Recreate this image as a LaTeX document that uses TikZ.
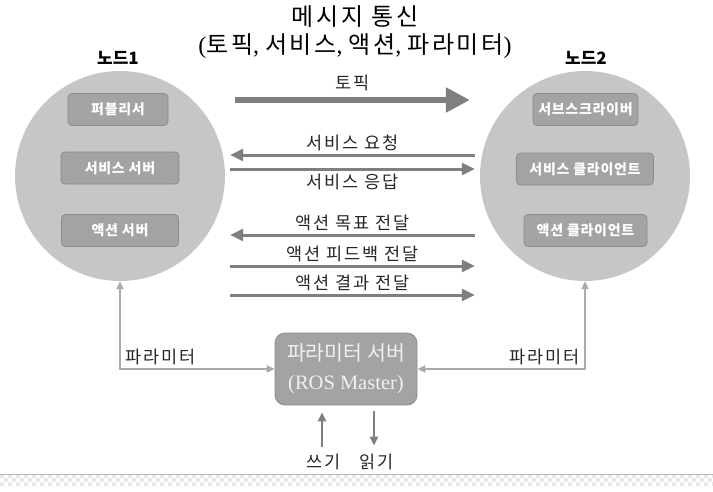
\documentclass[tikz,border=0pt]{standalone}
\usepackage{fontspec}
\setmainfont{Liberation Serif}
\newfontfamily\kr{Noto Sans CJK KR}
\newfontfamily\krw{Noto Sans CJK KR}[LetterSpace=11]
\newfontfamily\krb{Noto Sans CJK KR}[LetterSpace=5]
\usetikzlibrary{arrows.meta,positioning}
\definecolor{circgray}{HTML}{C6C6C6}
\definecolor{boxgray}{HTML}{A3A3A3}
\definecolor{boxline}{HTML}{8C8C8C}
\definecolor{arrgray}{HTML}{7F7F7F}
\definecolor{pargray}{HTML}{ABABAB}
\definecolor{chkgray}{HTML}{E8E8E8}
\begin{document}
\begin{tikzpicture}[x=1pt,y=-1pt,
    nodecirc/.style={circle,fill=circgray,minimum size=210pt,inner sep=0pt},
    inbox/.style={draw=boxline,fill=boxgray,line width=0.8pt,rounded corners=4pt,inner sep=0pt,minimum height=32pt,text=white,font=\krb\bfseries\fontsize{14}{16}\selectfont},
    lbl/.style={text=black!85,font=\krw\fontsize{17.5}{20}\selectfont},
    msg/.style={draw=arrgray,line width=3pt,shorten <=5pt,shorten >=5pt,-{Triangle[length=13pt,width=12pt]}},
    topic/.style={draw=arrgray,line width=5.5pt,shorten <=10pt,shorten >=10pt,-{Triangle[length=24pt,width=24pt]}},
    param/.style={draw=pargray,line width=2.2pt,{Triangle[length=8pt,width=7pt]}-{Triangle[length=8pt,width=7pt]}},
    io/.style={draw=arrgray,line width=2.5pt,-{Triangle[length=9pt,width=8pt]}}]
    \useasboundingbox (0,0) rectangle (713,491);
    \foreach \i in {0,2,...,178} {\fill[chkgray] (\i*4,474) rectangle ++(4,4) (\i*4,482) rectangle ++(4,4);}
    \foreach \i in {1,3,...,177} {\fill[chkgray] (\i*4,478) rectangle ++(4,4);}
    \draw[chkgray!80!black,line width=0.5pt] (0,474) -- (713,474);
    \node[font=\krw\fontsize{24}{26}\selectfont](TITLE) at (355,17) {메시지 통신};
    \node[font=\fontsize{24}{26}\selectfont](SUBT) at (355,46) {({\krw 토픽}, {\krw 서비스}, {\krw 액션}, {\krw 파라미터})};
    \node[nodecirc](NODE1) at (120,176) {};
    \node[nodecirc](NODE2) at (585,176) {};
    \node[font=\kr\bfseries\fontsize{17}{19}\selectfont] at (118,58) {노드1};
    \node[font=\kr\bfseries\fontsize{17}{19}\selectfont] at (586,58) {노드2};
    \node[inbox,minimum width=100pt](PUB) at (118,109.5) {퍼블리서};
    \node[inbox,minimum width=118pt](SRV) at (120,168) {서비스 서버};
    \node[inbox,minimum width=117pt](ASRV) at (120,230.5) {액션 서버};
    \node[inbox,minimum width=105pt](SUB) at (585.5,109.5) {서브스크라이버};
    \node[inbox,minimum width=137pt](CLI) at (585,169) {서비스 클라이언트};
    \node[inbox,minimum width=123pt](ACLI) at (585.5,230.5) {액션 클라이언트};
    \node[draw=boxline,fill=boxgray,line width=0.8pt,rounded corners=10pt,minimum width=142pt,minimum height=72pt,align=center,text=white!94!black,font=\fontsize{20.5}{29}\selectfont](PSRV) at (346,369) {{\kr 파라미터 서버}\\(ROS Master)};
    \node[lbl](WRT) at (324,462) {쓰기};
    \node[lbl](RD) at (377,462) {읽기};
    \draw[topic] ([yshift=76pt]NODE1.east) -- ([yshift=76pt]NODE2.west) node[lbl,midway,above=3pt]{토픽};
    \draw[msg] ([yshift=21pt]NODE2.west) -- ([yshift=21pt]NODE1.east) node[lbl,midway,above=-1pt]{서비스 요청};
    \draw[msg] ([yshift=7pt]NODE1.east) -- ([yshift=7pt]NODE2.west) node[lbl,midway,below=0pt]{서비스 응답};
    \draw[msg] ([yshift=-59pt]NODE2.west) -- ([yshift=-59pt]NODE1.east) node[lbl,midway,above=-1pt]{액션 목표 전달};
    \draw[msg] ([yshift=-90pt]NODE1.east) -- ([yshift=-90pt]NODE2.west) node[lbl,midway,above=-1pt]{액션 피드백 전달};
    \draw[msg] ([yshift=-119pt]NODE1.east) -- ([yshift=-119pt]NODE2.west) node[lbl,midway,above=-1pt]{액션 결과 전달};
    \draw[param] (NODE1.south) |- (PSRV.west) node[lbl,pos=0.5,above right=0pt and 1pt]{파라미터};
    \draw[param] (NODE2.south) |- (PSRV.east) node[lbl,pos=0.5,above left=0pt and 1pt]{파라미터};
    \draw[io,shorten <=4pt,shorten >=7pt] ([xshift=-2pt]WRT.north) -- ([xshift=-2pt]WRT.north |- PSRV.south);
    \draw[io,shorten <=6pt,shorten >=5pt] ([xshift=-3pt]RD.north |- PSRV.south) -- ([xshift=-3pt]RD.north);
\end{tikzpicture}
\end{document}
